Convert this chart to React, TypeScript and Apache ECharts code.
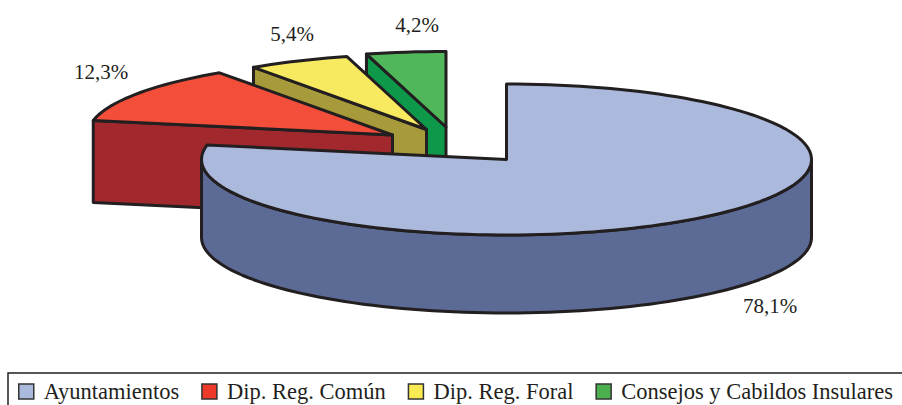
import React, { useEffect, useRef } from "react";
import * as echarts from "echarts";

const categories = ["Ayuntamientos", "Dip. Reg. Común", "Dip. Reg. Foral", "Consejos y Cabildos Insulares"];
const shares = [78.1, 12.3, 5.4, 4.2];

const topColors = ["#ABB9DC", "#F24E3A", "#F8EA60", "#50B85A"];
const sideColors = ["#5C6A96", "#A1292D", "#A79A3A", "#0E984A"];
const legendColors = ["#A9BADC", "#EE3A2A", "#F8EA50", "#4DB04F"];
const apexes = [[506.5, 159.5], [392.5, 135], [426.5, 129.5], [446, 127]];
const depths = [78, 82, 80, 80];
const labelSpots = [[770, 306], [101, 72], [292, 34], [417, 25]];
const RX = 305, RY = 75.5;
const STROKE = "#231F20";
const FONT = "'Liberation Serif', 'Times New Roman', serif";

const total = shares.reduce((a, b) => a + b, 0);

function rim(cx: number, cy: number, deg: number): number[] {
  const r = (deg * Math.PI) / 180;
  return [cx + RX * Math.sin(r), cy - RY * Math.cos(r)];
}

function arc(cx: number, cy: number, a0: number, a1: number): number[][] {
  const n = Math.max(2, Math.ceil(Math.abs(a1 - a0) / 2));
  const pts: number[][] = [];
  for (let i = 0; i <= n; i++) pts.push(rim(cx, cy, a0 + ((a1 - a0) * i) / n));
  return pts;
}

function renderSlice(idx: number) {
  return (_params: any, api: any) => {
    const value = api.value(0);
    const before = shares.slice(0, idx).reduce((a, b) => a + b, 0);
    const a0 = (before / total) * 360;
    const a1 = a0 + (value / total) * 360;
    const [cx, cy] = apexes[idx];
    const depth = depths[idx];
    const line = { stroke: STROKE, lineWidth: 3, lineJoin: "round" };
    const children: any[] = [];
    const down = (p: number[]) => [p[0], p[1] + depth];
    const face = (points: number[][], fill: string) =>
      children.push({ type: "polygon", shape: { points }, style: { fill, ...line } });

    const w0 = Math.max(a0, 90), w1 = Math.min(a1, 270);
    if (w1 > w0) {
      const top = arc(cx, cy, w0, w1);
      face([...top, ...top.slice().reverse().map(down)], sideColors[idx]);
    }
    const sin0 = Math.sin((a0 * Math.PI) / 180);
    if (sin0 < -1e-6) {
      const p = rim(cx, cy, a0);
      face([[cx, cy], p, down(p), [cx, cy + depth]], sideColors[idx]);
    }
    const sin1 = Math.sin((a1 * Math.PI) / 180);
    if (sin1 > 1e-6) {
      const p = rim(cx, cy, a1);
      face([[cx, cy], p, down(p), [cx, cy + depth]], sideColors[idx]);
    }
    face([[cx, cy], ...arc(cx, cy, a0, a1)], topColors[idx]);
    children.push({
      type: "text",
      style: {
        x: labelSpots[idx][0],
        y: labelSpots[idx][1],
        text: value.toFixed(1).replace(".", ",") + "%",
        fill: "#231F20",
        font: `21px ${FONT}`,
        align: "center",
        verticalAlign: "middle",
      },
    });
    return { type: "group", children };
  };
}

export default function App() {
  const ref = useRef<HTMLDivElement>(null);
  useEffect(() => {
    const chart = echarts.init(ref.current!, undefined, { renderer: "svg" });
    const order = [3, 2, 1, 0];
    chart.setOption({
      animation: false,
      backgroundColor: "#fff",
      legend: {
        data: categories,
        left: 8,
        top: 373,
        width: 900,
        padding: [7, 12, 11, 10],
        itemWidth: 15,
        itemHeight: 15,
        itemGap: 22,
        borderColor: STROKE,
        borderWidth: 1.5,
        icon: "rect",
        selectedMode: false,
        textStyle: { fontFamily: FONT, fontSize: 22.5, color: "#231F20", padding: [0, 0, 0, 5] },
        itemStyle: { borderColor: "#333", borderWidth: 1.5 },
      },
      series: order.map((i) => ({
        type: "custom",
        name: categories[i],
        coordinateSystem: "none",
        silent: true,
        itemStyle: { color: legendColors[i] },
        data: [[shares[i]]],
        renderItem: renderSlice(i),
      })),
    });
    return () => chart.dispose();
  }, []);
  return <div ref={ref} style={{ position: "absolute", left: 0, top: 0, width: 902, height: 405 }} />;
}
